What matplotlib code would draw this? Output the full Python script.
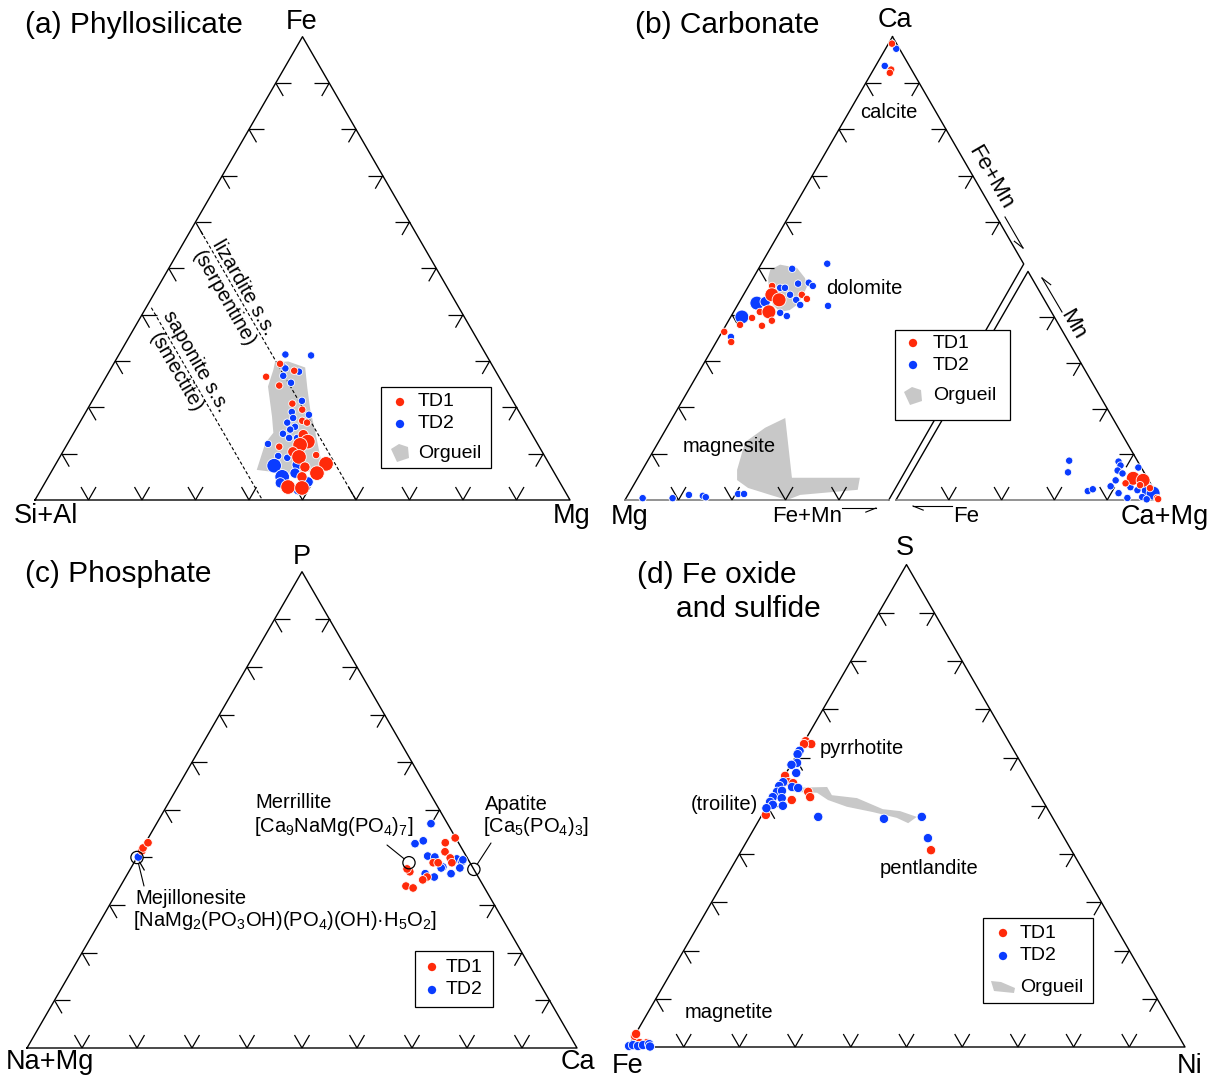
import numpy as np
import matplotlib
matplotlib.use('Agg')
import matplotlib.pyplot as plt
from matplotlib.collections import LineCollection
from matplotlib.patches import Polygon, Rectangle


plt.rcParams['font.family'] = ['Liberation Sans', 'DejaVu Sans']
plt.rcParams['mathtext.fontset'] = 'custom'
plt.rcParams['mathtext.rm'] = 'Liberation Sans'
plt.rcParams['mathtext.default'] = 'regular'

RED = '#ff2a0a'
BLUE = '#0a3cff'
GRAY = '#c8c8c8'

#-----------------------------------------------------------------------------
# data (atomic %), size class 0 small / 1 medium / 2 large

# (a) phyllosilicate : Fe, Mg ; Si+Al is the rest
a_td1_fe = [29.4, 27.9, 26.6, 24.7, 20.8, 19.5, 17.1, 16.7, 14.1, 12.6, 11.9,
            11.5, 10.4, 9.3, 9.7, 7.8, 7.1, 5.8, 5.0, 2.8, 2.6]
a_td1_mg = [31.1, 34.5, 29.9, 33.3, 37.7, 40.2, 41.4, 42.5, 43.1, 44.7, 43.6,
            39.9, 43.0, 44.7, 47.7, 50.5, 46.9, 49.8, 47.4, 45.9, 48.6]
a_td1_size = [0, 0, 0, 0, 0, 0, 0, 0, 1, 2, 2, 0, 1, 2, 0, 2, 1, 2, 1, 2, 2]

a_td2_fe = [31.4, 31.2, 28.8, 28.4, 27.7, 26.8, 25.3, 21.4, 19.0, 18.4, 17.7,
            16.7, 15.8, 15.2, 14.3, 13.4, 13.4, 12.1, 9.5, 9.1, 7.4, 7.6, 5.0,
            5.8, 3.7, 3.9, 2.2]
a_td2_mg = [31.1, 36.0, 32.0, 32.6, 35.5, 33.0, 35.2, 39.2, 38.5, 42.0, 39.4,
            38.8, 40.7, 40.1, 39.2, 40.8, 42.3, 37.5, 40.7, 42.6, 41.0, 45.2,
            43.7, 45.7, 44.0, 49.1, 48.1]
a_td2_size = [0, 0, 0, 0, 0, 0, 0, 0, 0, 0, 0, 0, 0, 0, 0, 0, 0, 0, 0, 0,
              2, 1, 2, 1, 1, 1, 1]

a_org_fe = [29.7, 29.9, 28.6, 24.2, 19.5, 15.2, 11.5, 8.7, 6.5, 5.6, 6.5,
            12.3, 14.5, 18.0, 24.5, 28.1]
a_org_mg = [30.0, 32.4, 36.2, 38.8, 41.7, 44.7, 47.2, 49.1, 50.4, 44.9, 38.2,
            36.9, 37.3, 35.3, 31.3, 30.5]

# reference lines: Si+Al of lizardite and saponite
a_lizardite_sial = 40.0
a_saponite_sial = 57.5

# (b) carbonate, main diagram : Ca, Fe+Mn ; Mg is the rest
b_td1_ca = [98.5, 92.9, 92.2, 46.2, 44.3, 43.2, 44.3, 43.4, 40.6, 40.6, 39.3,
            37.8, 37.6, 38.7, 36.3, 34.1]
b_td1_femn = [0.65, 3.3, 3.4, 4.4, 5.3, 7.2, 10.9, 12.3, 4.9, 6.6, 4.1, 2.6,
              6.8, 8.1, 0.4, 2.8]
b_td1_size = [0, 0, 0, 0, 2, 2, 0, 0, 0, 2, 0, 0, 0, 0, 0, 0]

b_td2_ca = [97.4, 93.7, 49.9, 51.0, 46.7, 46.9, 46.2, 45.8, 45.8, 44.3, 43.2,
            42.1, 41.9, 42.5, 42.8, 40.4, 39.7, 39.5, 35.2, 0.4, 0.4, 1.1, 0.9,
            0.6, 1.3, 1.3]
b_td2_femn = [2.0, 1.7, 6.3, 12.3, 9.0, 10.9, 12.0, 6.1, 7.0, 8.7, 10.4, 11.7,
              17.0, 3.4, 4.8, 8.8, 10.4, 2.1, 2.2, 3.1, 8.7, 11.4, 14.1, 14.8,
              20.5, 21.6]
b_td2_size = [0, 0, 0, 0, 0, 0, 0, 0, 0, 0, 0, 0, 0, 2, 1, 0, 0, 2, 0,
              0, 0, 0, 0, 0, 0, 0]

b_org_dol_ca = [49.7, 50.8, 50.1, 47.9, 46.0, 43.8, 42.1, 41.0, 40.6, 42.1,
                45.4, 47.9]
b_org_dol_femn = [2.3, 3.6, 7.1, 9.7, 11.0, 11.2, 11.1, 10.3, 8.7, 6.6, 4.2,
                  2.8]
b_org_mgs_ca = [6.5, 12.5, 15.6, 17.7, 4.8, 4.8, 2.2, 1.1, 0.0, 1.1, 2.6, 4.3]
b_org_mgs_femn = [17.7, 16.2, 18.4, 21.1, 28.8, 41.5, 42.4, 32.2, 30.3, 26.6,
                  21.7, 18.8]

# (b) carbonate, inset : Mn, Fe ; Ca+Mg is the rest
b_td1_mn = [9.5, 8.6, 7.3, 0.9, 0.4, 6.5, 5.2]
b_td1_fe = [5.4, 2.1, 9.4, 0.7, 0.5, 4.3, 1.2]
b_td1_isize = [2, 2, 0, 0, 0, 0, 0]

b_td2_mn = [17.2, 12.1, 16.8, 15.1, 12.9, 11.6, 14.2, 8.6, 5.6, 4.3, 4.3, 3.0,
            1.3, 0.3, 3.9, 4.7, 3.0, 0.9, 6.0]
b_td2_fe = [25.8, 28.8, 7.3, 7.4, 9.6, 8.4, 1.1, 12.5, 8.4, 6.4, 2.3, 1.1,
            6.1, 4.9, 25.4, 23.1, 14.2, 11.9, 15.7]
b_td2_isize = [0, 0, 0, 0, 0, 0, 0, 0, 0, 0, 2, 2, 0, 0, 0, 0, 0, 0, 0]

# (c) phosphate : P, Ca ; Na+Mg is the rest
c_td1_p = [41.4, 42.0, 43.1, 44.1, 43.1, 41.2, 39.9, 38.9, 38.9, 38.9, 37.0,
           37.6, 35.9, 35.3, 34.0, 33.6]
c_td1_ca = [0.2, 0.1, 0.45, 55.8, 54.5, 55.4, 57.0, 54.4, 55.3, 57.8, 51.1,
            50.3, 54.8, 54.3, 51.9, 53.4]
c_td2_p = [40.1, 47.1, 43.5, 42.9, 40.3, 40.1, 38.0, 37.8, 39.7, 39.1, 39.5,
           36.6, 36.6, 35.9, 37.8]
c_td2_ca = [0.2, 49.9, 50.3, 49.1, 52.7, 54.1, 56.6, 56.4, 58.3, 59.5, 59.5,
            58.8, 54.1, 56.1, 59.8]

c_mineral_names = ['Mejillonesite', 'Merrillite', 'Apatite']
c_mineral_p = [40.0, 38.9, 37.5]
c_mineral_ca = [0.0, 50.0, 62.5]

# (d) Fe oxide and sulfide : S, Ni ; Fe is the rest
d_td1_s = [63.4, 62.8, 62.8, 56.2, 54.9, 54.7, 52.9, 51.8, 51.2, 48.1, 40.8,
           2.3, 2.7, 0.8, 0.8]
d_td1_ni = [0.2, 1.5, 0.2, 0.1, 1.3, 2.3, 5.9, 6.8, 3.8, 0.7, 34.0, 0.1, 0.1,
            1.7, 3.0]
d_td2_s = [61.4, 60.7, 58.9, 58.5, 56.8, 54.9, 54.1, 53.9, 53.7, 52.9, 53.1,
           51.8, 51.6, 50.8, 50.2, 50.0, 49.5, 47.7, 47.3, 47.7, 43.3, 0.2,
           0.4, 0.2, 0.4, 0.6, 0.1]
d_td2_ni = [0.1, 0.1, 0.9, 0.1, 1.8, 0.4, 0.1, 2.5, 3.7, 0.3, 1.1, 0.1, 1.8,
            0.1, 0.9, 2.8, 0.1, 10.3, 22.3, 28.9, 32.2, 0.1, 0.7, 1.7, 2.5,
            3.5, 3.9]
d_org_s = [53.7, 53.9, 52.2, 51.6, 49.3, 48.9, 47.7, 46.4, 47.5, 48.7, 49.8,
           51.2, 52.7, 52.9]
d_org_ni = [1.7, 8.8, 10.5, 15.3, 21.1, 24.4, 28.0, 27.1, 24.5, 19.6, 14.4,
            10.3, 7.6, 3.0]

#-----------------------------------------------------------------------------
# triangle corners on the canvas (bottom-left, bottom-right, top)

TRI_A = [(35, 500), (570, 500), (302.5, 36.7)]
TRI_B = [(625, 500), (1160, 500), (892.5, 36.7)]
TRI_BI = [(896, 500), (1160, 500), (1028, 271.4)]
TRI_C = [(27, 1048), (577, 1048), (302, 571.7)]
TRI_D = [(628, 1047), (1185, 1047), (906.5, 564.6)]


def to_xy(c0, c1, c2, tri):
    w = np.column_stack([c0, c1, c2]).astype(float) / 100.0
    return w @ np.asarray(tri, float)


def rest(u, v):
    return 100.0 - np.asarray(u, float) - np.asarray(v, float)


def ticks(ax, tri, edge, fracs, color='k'):
    side = tri[1][0] - tri[0][0]
    t = 15.0 / side * 100.0
    segs = []
    for f in fracs:
        if edge == 'bottom':
            p, k = [100.0 - f, f, 0.0], 2
        elif edge == 'left':
            p, k = [100.0 - f, 0.0, f], 1
        else:
            p, k = [0.0, 100.0 - f, f], 0
        for j in range(3):
            if j == k:
                continue
            q = list(p)
            q[k] += t
            q[j] -= t
            segs.append(to_xy(*np.array([p, q]).T, tri))
    ax.add_collection(LineCollection(segs, colors=color, linewidths=0.9,
                                     zorder=2))


def outline(ax, tri):
    xy = np.array(tri + [tri[0]])
    ax.plot(xy[:, 0], xy[:, 1], color='k', lw=1.0, zorder=2)


def dots(ax, xy, color, sizes, scale):
    s = [scale[k] for k in sizes]
    ax.scatter(xy[:, 0], xy[:, 1], s=s, c=color, edgecolors='white',
               linewidths=0.6, zorder=3)


def half_arrow(ax, p0, p1, side):
    p0 = np.asarray(p0, float)
    p1 = np.asarray(p1, float)
    ax.plot([p0[0], p1[0]], [p0[1], p1[1]], color='k', lw=0.8)
    d = (p0 - p1) / np.hypot(*(p0 - p1))
    a = np.radians(22) * side
    r = np.array([d[0] * np.cos(a) - d[1] * np.sin(a),
                  d[0] * np.sin(a) + d[1] * np.cos(a)])
    b = p1 + 11 * r
    ax.plot([p1[0], b[0]], [p1[1], b[1]], color='k', lw=0.8)


def legend_box(ax, box, xm, xt, rows, glyph):
    x0, y0, x1, y1 = box
    ax.add_patch(Rectangle((x0, y0), x1 - x0, y1 - y0, fc='white', ec='k',
                           lw=0.9, zorder=5))
    for kind, y, label in rows:
        if kind == 'org':
            g = np.array(glyph, float) + [xm, y]
            ax.add_patch(Polygon(g, closed=True, fc=GRAY, ec='none', zorder=6))
        else:
            ax.scatter([xm], [y], s=36, c=kind, edgecolors='none', zorder=6)
        ax.text(xt, y, label, fontsize=14, va='center', ha='left', zorder=6)


def main():

    fig = plt.figure(figsize=(12.15, 10.79), dpi=100)
    ax = fig.add_axes([0, 0, 1, 1])
    ax.set_xlim(0, 1215)
    ax.set_ylim(1079, 0)
    ax.axis('off')

    dec = [10, 20, 30, 40, 50, 60, 70, 80, 90]

    #-------------------------------------------------------------------------
    # (a) phyllosilicate

    outline(ax, TRI_A)
    for e in ('bottom', 'left', 'right'):
        ticks(ax, TRI_A, e, dec)

    org = to_xy(rest(a_org_fe, a_org_mg), a_org_mg, a_org_fe, TRI_A)
    ax.add_patch(Polygon(org, closed=True, fc=GRAY, ec='none', zorder=1))

    for sial, mg0 in ((a_lizardite_sial, 2.0), (a_saponite_sial, 1.0)):
        ln = to_xy([sial, sial], [mg0, 100 - sial], [100 - sial - mg0, 0],
                   TRI_A)
        ax.plot(ln[:, 0], ln[:, 1], color='k', lw=0.8, ls=(0, (3, 2)),
                zorder=2)

    ax.text(234, 293, 'lizardite s.s.\n(serpentine)', rotation=-60,
            fontsize=14.5, ha='center', va='center', linespacing=1.25)
    ax.text(186, 367, 'saponite s.s.\n(smectite)', rotation=-60,
            fontsize=14.5, ha='center', va='center', linespacing=1.25)

    scale_a = [28, 55, 110]
    dots(ax, to_xy(rest(a_td2_fe, a_td2_mg), a_td2_mg, a_td2_fe, TRI_A),
         BLUE, a_td2_size, scale_a)
    dots(ax, to_xy(rest(a_td1_fe, a_td1_mg), a_td1_mg, a_td1_fe, TRI_A),
         RED, a_td1_size, scale_a)

    ax.text(25, 25, '(a) Phyllosilicate', fontsize=21.5, va='center')
    ax.text(302, 22, 'Fe', fontsize=19.5, ha='center', va='center')
    ax.text(46, 516, 'Si+Al', fontsize=19.5, ha='center', va='center')
    ax.text(572, 516, 'Mg', fontsize=19.5, ha='center', va='center')

    glyph_a = [(-9, -4), (-1, -9), (8, -6), (9, 5), (-3, 9)]
    legend_box(ax, (381, 387, 491, 468), 400, 418,
               [(RED, 402, 'TD1'), (BLUE, 424, 'TD2'),
                ('org', 453, 'Orgueil')], glyph_a)

    #-------------------------------------------------------------------------
    # (b) carbonate

    tri = np.array(TRI_B)
    ax.plot([tri[0, 0], tri[2, 0]], [tri[0, 1], tri[2, 1]], color='k', lw=1.0)
    cut = to_xy([0, 50.7], [49.06, 49.3], [50.94, 0], TRI_B)
    ax.plot([tri[2, 0], cut[0, 0], cut[1, 0]], [tri[2, 1], cut[0, 1], cut[1, 1]],
            color='k', lw=1.0)
    ax.plot([tri[0, 0], cut[1, 0]], [tri[0, 1], cut[1, 1]], color='#808080',
            lw=1.2)
    ticks(ax, TRI_B, 'left', dec)
    ticks(ax, TRI_B, 'right', [60, 70, 80, 90])
    ticks(ax, TRI_B, 'bottom', [10, 20, 30, 40])

    ti = np.array(TRI_BI)
    ax.plot([ti[0, 0], ti[2, 0], ti[1, 0]], [ti[0, 1], ti[2, 1], ti[1, 1]],
            color='k', lw=1.0)
    ax.plot([ti[0, 0], ti[1, 0]], [ti[0, 1], ti[1, 1]], color='#808080',
            lw=1.2)
    ticks(ax, TRI_BI, 'bottom', [20, 40, 60, 80])
    ticks(ax, TRI_BI, 'right', [20, 40, 60, 80])

    for ca, femn in ((b_org_dol_ca, b_org_dol_femn),
                     (b_org_mgs_ca, b_org_mgs_femn)):
        org = to_xy(rest(ca, femn), femn, ca, TRI_B)
        ax.add_patch(Polygon(org, closed=True, fc=GRAY, ec='none', zorder=1))

    scale_b = [28, 55, 100]
    dots(ax, to_xy(rest(b_td2_ca, b_td2_femn), b_td2_femn, b_td2_ca, TRI_B),
         BLUE, b_td2_size, scale_b)
    dots(ax, to_xy(rest(b_td1_ca, b_td1_femn), b_td1_femn, b_td1_ca, TRI_B),
         RED, b_td1_size, scale_b)
    dots(ax, to_xy(b_td2_fe, rest(b_td2_fe, b_td2_mn), b_td2_mn, TRI_BI),
         BLUE, b_td2_isize, scale_b)
    dots(ax, to_xy(b_td1_fe, rest(b_td1_fe, b_td1_mn), b_td1_mn, TRI_BI),
         RED, b_td1_isize, scale_b)

    ax.text(635, 25, '(b) Carbonate', fontsize=21.5, va='center')
    ax.text(895, 20, 'Ca', fontsize=19.5, ha='center', va='center')
    ax.text(630, 517, 'Mg', fontsize=19.5, ha='center', va='center')
    ax.text(1165, 517, 'Ca+Mg', fontsize=19.5, ha='center', va='center')
    ax.text(807, 517, 'Fe+Mn', fontsize=16, ha='center', va='center')
    ax.text(966, 517, 'Fe', fontsize=16, ha='center', va='center')
    ax.text(990, 178, 'Fe+Mn', fontsize=16, ha='center', va='center',
            rotation=-60)
    ax.text(1073, 325, 'Mn', fontsize=16, ha='center', va='center',
            rotation=-60)
    half_arrow(ax, (1005, 217), (1023, 248), -1)
    half_arrow(ax, (842, 508), (876, 508), -1)
    half_arrow(ax, (952, 506), (913, 506), 1)
    half_arrow(ax, (1062, 312), (1042, 278), -1)

    ax.text(889, 113, 'calcite', fontsize=14.5, ha='center', va='center')
    ax.text(826, 288, 'dolomite', fontsize=14.5, ha='left', va='center')
    ax.text(683, 447, 'magnesite', fontsize=14.5, ha='left', va='center')

    legend_box(ax, (895, 330, 1010, 420), 913, 933,
               [(RED, 343, 'TD1'), (BLUE, 365, 'TD2'),
                ('org', 396, 'Orgueil')], glyph_a)

    #-------------------------------------------------------------------------
    # (c) phosphate

    outline(ax, TRI_C)
    for e in ('bottom', 'left', 'right'):
        ticks(ax, TRI_C, e, dec)

    scale_c = [38, 38, 38]
    dots(ax, to_xy(rest(c_td2_p, c_td2_ca), c_td2_ca, c_td2_p, TRI_C),
         BLUE, [0] * len(c_td2_p), scale_c)
    dots(ax, to_xy(rest(c_td1_p, c_td1_ca), c_td1_ca, c_td1_p, TRI_C),
         RED, [0] * len(c_td1_p), scale_c)

    mins = to_xy(rest(c_mineral_p, c_mineral_ca), c_mineral_ca, c_mineral_p,
                 TRI_C)
    ax.scatter(mins[:, 0], mins[:, 1], s=78, facecolors='none',
               edgecolors='k', linewidths=0.9, zorder=4)

    formulas = ['[NaMg$_2$(PO$_3$OH)(PO$_4$)(OH)·H$_5$O$_2$]',
                '[Ca$_9$NaMg(PO$_4$)$_7$]',
                '[Ca$_5$(PO$_4$)$_3$]']
    name_pos = [(135, 898), (255, 803), (485, 804)]
    form_pos = [(133, 921), (254, 826), (483, 826)]
    lead_pos = [(144, 886), (387, 845), (491, 843)]
    for i, name in enumerate(c_mineral_names):
        ax.text(*name_pos[i], name, fontsize=14.5, ha='left', va='center')
        ax.text(*form_pos[i], formulas[i], fontsize=14.5, ha='left',
                va='center')
        ax.annotate('', xy=mins[i], xytext=lead_pos[i],
                    arrowprops=dict(arrowstyle='-', lw=0.8, color='k',
                                    shrinkA=0, shrinkB=4.5))

    ax.text(25, 574, '(c) Phosphate', fontsize=21.5, va='center')
    ax.text(302, 557, 'P', fontsize=19.5, ha='center', va='center')
    ax.text(50, 1062, 'Na+Mg', fontsize=19.5, ha='center', va='center')
    ax.text(578, 1062, 'Ca', fontsize=19.5, ha='center', va='center')

    legend_box(ax, (415, 951, 493, 1007), 432, 446,
               [(RED, 967, 'TD1'), (BLUE, 990, 'TD2')], glyph_a)

    #-------------------------------------------------------------------------
    # (d) Fe oxide and sulfide

    outline(ax, TRI_D)
    for e in ('bottom', 'left', 'right'):
        ticks(ax, TRI_D, e, dec)

    org = to_xy(rest(d_org_s, d_org_ni), d_org_ni, d_org_s, TRI_D)
    ax.add_patch(Polygon(org, closed=True, fc=GRAY, ec='none', zorder=1))

    scale_d = [45, 45, 45]
    dots(ax, to_xy(rest(d_td1_s, d_td1_ni), d_td1_ni, d_td1_s, TRI_D),
         RED, [0] * len(d_td1_s), scale_d)
    dots(ax, to_xy(rest(d_td2_s, d_td2_ni), d_td2_ni, d_td2_s, TRI_D),
         BLUE, [0] * len(d_td2_s), scale_d)

    ax.text(637, 575, '(d) Fe oxide', fontsize=21.5, va='center')
    ax.text(676, 609, 'and sulfide', fontsize=21.5, va='center')
    ax.text(905, 548, 'S', fontsize=19.5, ha='center', va='center')
    ax.text(628, 1066, 'Fe', fontsize=19.5, ha='center', va='center')
    ax.text(1190, 1066, 'Ni', fontsize=19.5, ha='center', va='center')

    ax.text(820, 748, 'pyrrhotite', fontsize=14.5, ha='left', va='center')
    ax.text(758, 805, '(troilite)', fontsize=14.5, ha='right', va='center')
    ax.text(880, 868, 'pentlandite', fontsize=14.5, ha='left', va='center')
    ax.text(685, 1013, 'magnetite', fontsize=14.5, ha='left', va='center')

    glyph_d = [(-12, -6), (-2, -5), (12, 1), (11, 6), (-9, 4)]
    legend_box(ax, (983, 918, 1093, 1003), 1003, 1020,
               [(RED, 933, 'TD1'), (BLUE, 956, 'TD2'),
                ('org', 987, 'Orgueil')], glyph_d)

    fig.savefig('out.png', dpi=100)


if __name__ == "__main__":
    main()
